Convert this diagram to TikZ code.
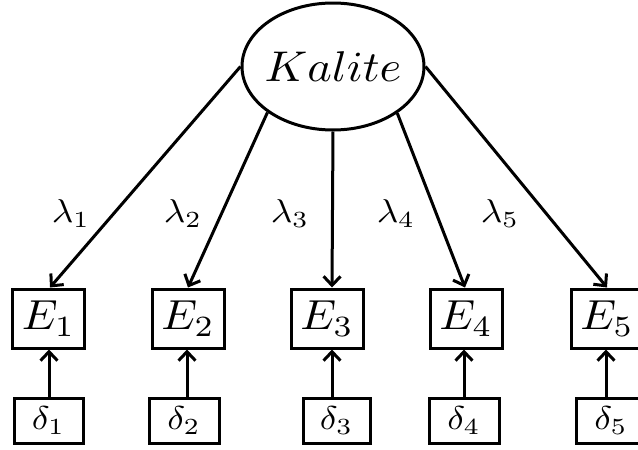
\documentclass[tikz,border=0pt]{standalone}
\usetikzlibrary{shapes.geometric,arrows.meta}
\begin{document}
\begin{tikzpicture}[x=1pt,y=-1pt,
  line width=3pt,
  ebox/.style={draw,minimum width=72pt,minimum height=59pt,inner sep=0pt},
  dbox/.style={draw,minimum width=69pt,minimum height=45pt,inner sep=0pt},
  lab/.style={inner sep=0pt},
  arr/.style={-{Straight Barb[length=9pt,width=17pt]}}]
\clip (0,0) rectangle (638,450);
\useasboundingbox (0,0) rectangle (638,450);
\newcommand{\Ebig}[1]{\scalebox{4.5}[4.2]{$#1$}}
\newcommand{\Dsm}[1]{\scalebox{3.7}[3.3]{$#1$}}
\node[ellipse,draw,minimum width=182pt,minimum height=127pt,inner sep=0pt] (K) at (333,66.5)
  {\makebox[0pt]{\scalebox{4.65}[4.3]{$Kalite$}}};
\node[ebox] (E1) at (48.5,318.5) {\Ebig{E_1}};
\node[ebox] (E2) at (188,318.5) {\Ebig{E_2}};
\node[ebox] (E3) at (327,318.5) {\Ebig{E_3}};
\node[ebox] (E4) at (466,318.5) {\Ebig{E_4}};
\node[ebox] (E5) at (607,318.5) {\Ebig{E_5}};
\node[dbox] (D1) at (48.5,420.5) {\Dsm{\delta_1}};
\node[dbox,minimum width=70pt] (D2) at (184,420.5) {\Dsm{\delta_2}};
\node[dbox,minimum width=67pt] (D3) at (336.5,420.5) {\Dsm{\delta_3}};
\node[dbox,minimum width=70pt] (D4) at (464,420.5) {\Dsm{\delta_4}};
\node[dbox,minimum width=70pt] (D5) at (611,420.5) {\Dsm{\delta_5}};
\node[lab] (L1) at (71,214) {\Dsm{\lambda_1}};
\node[lab] (L2) at (183,214) {\Dsm{\lambda_2}};
\node[lab] (L3) at (290,214) {\Dsm{\lambda_3}};
\node[lab] (L4) at (396,214) {\Dsm{\lambda_4}};
\node[lab] (L5) at (500,214) {\Dsm{\lambda_5}};
\draw[arr] (K.west) -- ([xshift=1.5pt]E1.north);
\draw[arr] (K.215.6) -- (E2.north);
\draw[arr] (K.south) -- ([xshift=5pt]E3.north);
\draw[arr] (K.324.4) -- ([xshift=-1pt]E4.north);
\draw[arr] (K.east) -- (E5.north);
\draw[arr] ([xshift=0.5pt]D1.north) -- ([xshift=0.5pt]E1.south);
\draw[arr] ([xshift=3pt]D2.north) -- ([xshift=-1pt]E2.south);
\draw[arr] ([xshift=-4.5pt]D3.north) -- ([xshift=5pt]E3.south);
\draw[arr] (D4.north) -- ([xshift=-2pt]E4.south);
\draw[arr] ([xshift=-5pt]D5.north) -- ([xshift=-1pt]E5.south);
\end{tikzpicture}
\end{document}
